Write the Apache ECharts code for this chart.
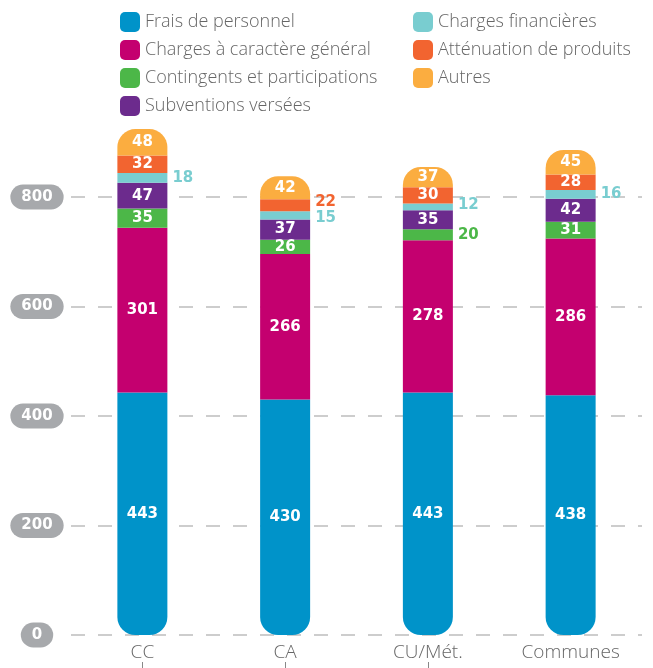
<!DOCTYPE html>
<html>
<head>
<meta charset="utf-8">
<script src="https://cdn.jsdelivr.net/npm/echarts@6/dist/echarts.min.js"></script>
<style>
  html, body { margin: 0; padding: 0; background: #fff; }
  #chart { width: 653px; height: 668px; }
</style>
</head>
<body>
<div id="chart"></div>
<script>
  // categories and series values (bottom to top of the stack)
  var categories = ['CC', 'CA', 'CU/Mét.', 'Communes\nisolées'];
  var seriesNames = [
    'Frais de personnel',
    'Charges à caractère général',
    'Contingents et participations',
    'Subventions versées',
    'Charges financières',
    'Atténuation de produits',
    'Autres'
  ];
  var frais = [443, 430, 443, 438];
  var chargesGen = [301, 266, 278, 286];
  var contingents = [35, 26, 20, 31];
  var subventions = [47, 37, 35, 42];
  var chargesFin = [18, 15, 12, 16];
  var attenuation = [32, 22, 30, 28];
  var autres = [48, 42, 37, 45];
  var yTicks = [0, 200, 400, 600, 800];

  var colors = ['#0093c9', '#c4006f', '#4cb748', '#6c2b8d', '#79cdd0', '#f26430', '#fbad40'];
  var values = [frais, chargesGen, contingents, subventions, chargesFin, attenuation, autres];
  // segments whose label sits outside, to the right: [category index, y nudge]
  var outside = [[], [], [[2, 0]], [], [[0, 0], [1, 3], [2, -2], [3, 0]], [[1, -3]], []];

  var labelFont = 'DejaVu Sans';
  var textFont = '"Open Sans", sans-serif';

  var series = values.map(function (vals, s) {
    var radius = [0, 0, 0, 0];
    if (s === 0) radius = [0, 0, 18, 18];
    if (s === values.length - 1) radius = [18, 18, 0, 0];
    return {
      name: seriesNames[s],
      type: 'bar',
      stack: 'total',
      barWidth: 50,
      clip: false,
      itemStyle: { color: colors[s], borderRadius: radius },
      label: {
        show: true,
        position: 'inside',
        color: '#fff',
        fontFamily: labelFont,
        fontWeight: 'bold',
        fontSize: 15
      },
      data: vals.map(function (v, i) {
        var hit = outside[s].filter(function (o) { return o[0] === i; })[0];
        if (hit) {
          return {
            value: v,
            label: { position: 'right', distance: 5, offset: [0, hit[1]], color: colors[s] }
          };
        }
        return v;
      })
    };
  });

  var chart = echarts.init(document.getElementById('chart'));
  var legendText = { color: '#666', fontFamily: textFont, fontWeight: 300, fontSize: 18 };

  chart.setOption({
    animation: false,
    legend: [
      {
        data: seriesNames.slice(0, 4),
        orient: 'vertical',
        left: 120, top: 12, padding: 0,
        itemWidth: 20, itemHeight: 20, itemGap: 8,
        icon: 'roundRect',
        textStyle: legendText
      },
      {
        data: seriesNames.slice(4),
        orient: 'vertical',
        left: 413, top: 12, padding: 0,
        itemWidth: 20, itemHeight: 20, itemGap: 8,
        icon: 'roundRect',
        textStyle: legendText
      }
    ],
    grid: {
      left: 71, right: 11, top: 197, bottom: 33,
      containLabel: false,
      outerBoundsMode: 'none'
    },
    xAxis: [
      {
        type: 'category',
        data: categories,
        axisLine: { show: false },
        axisTick: { show: false },
        axisLabel: {
          interval: 0,
          margin: 6,
          color: '#666',
          fontFamily: textFont,
          fontWeight: 300,
          fontSize: 19,
          lineHeight: 24
        }
      },
      {
        // short marks under the first three category names
        type: 'category',
        data: categories,
        position: 'bottom',
        offset: 27,
        axisLine: { show: false, onZero: false },
        axisLabel: { show: false, interval: 0 },
        axisTick: {
          show: true,
          alignWithLabel: true,
          interval: function (idx) { return idx < 3; },
          length: 6,
          lineStyle: { color: '#888', width: 1 }
        }
      }
    ],
    yAxis: {
      type: 'value',
      min: yTicks[0],
      max: yTicks[yTicks.length - 1],
      interval: 200,
      axisLine: { show: false },
      axisTick: { show: false },
      splitLine: {
        lineStyle: { color: '#cdcdcd', width: 2, type: [14, 13] }
      },
      axisLabel: {
        align: 'center',
        margin: 34,
        color: '#fff',
        fontFamily: labelFont,
        fontWeight: 'bold',
        fontSize: 15,
        lineHeight: 19,
        backgroundColor: '#a7a9ac',
        borderRadius: 13,
        padding: [3, 11]
      }
    },
    series: series
  });
</script>
</body>
</html>
